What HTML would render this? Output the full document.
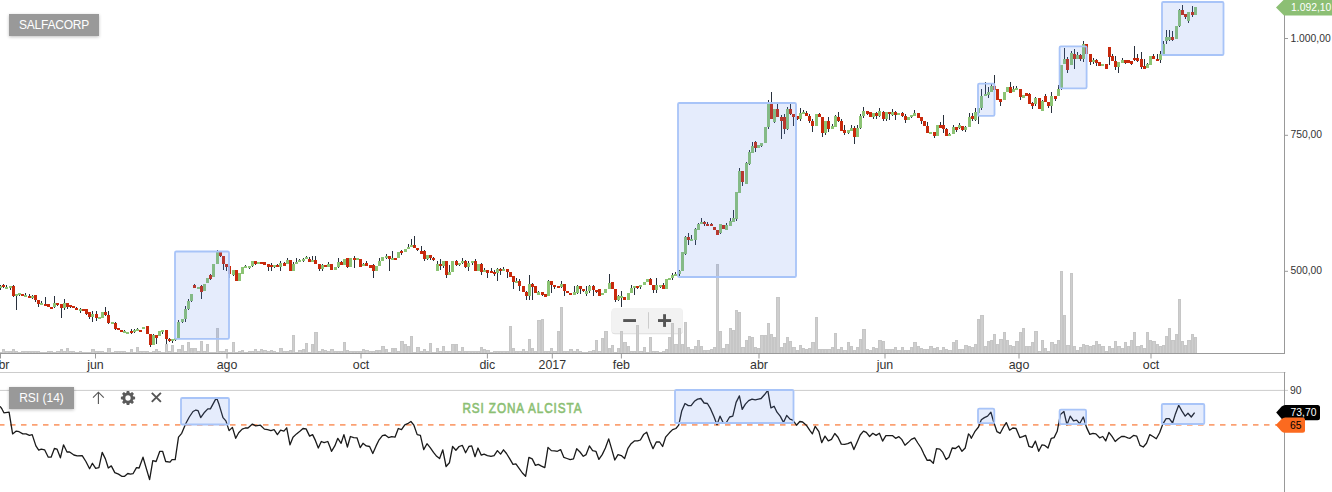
<!DOCTYPE html>
<html><head><meta charset="utf-8"><title>SALFACORP</title>
<style>
html,body{margin:0;padding:0;background:#fff;}
body{width:1332px;height:492px;overflow:hidden;position:relative;font-family:"Liberation Sans",sans-serif;}
svg{position:absolute;left:0;top:0;}
text{font-family:"Liberation Sans",sans-serif;}
.lbl{position:absolute;background:#999;color:#fff;font-size:12px;line-height:22px;height:22px;padding:0;text-align:center;box-shadow:0 1px 3px rgba(0,0,0,0.25);white-space:nowrap;}
</style></head><body>
<svg width="1332" height="492" viewBox="0 0 1332 492">
<rect width="1332" height="492" fill="#fff"/>
<!-- zoom widget -->
<g>
<rect x="611.5" y="309" width="71.4" height="25.2" rx="3.5" fill="#000" opacity="0.13"/>
<rect x="611.5" y="308" width="71.4" height="25.2" rx="3.5" fill="#f2f2f2"/>
<rect x="623.2" y="319.1" width="12.8" height="2.9" fill="#555"/>
<rect x="658" y="319.1" width="13.1" height="2.9" fill="#555"/>
<rect x="663.1" y="314.2" width="2.9" height="12.7" fill="#555"/>
<rect x="648" y="312.2" width="1" height="16.4" fill="#ccc"/>
</g>
<!-- volume -->
<g shape-rendering="crispEdges"><path d="M-1 353H2V352H-1zM2 353H5V349H2zM5 353H9V351H5zM9 353H12V351H9zM12 353H15V349H12zM15 353H18V351H15zM18 353H21V352H18zM21 353H24V351H21zM24 353H28V351H24zM28 353H31V351H28zM31 353H34V351H31zM34 353H37V351H34zM37 353H40V351H37zM40 353H44V352H40zM44 353H47V352H44zM47 353H50V351H47zM50 353H53V351H50zM53 353H56V352H53zM56 353H60V351H56zM60 353H63V349H60zM63 353H66V351H63zM66 353H69V348H66zM69 353H72V351H69zM72 353H75V351H72zM75 353H79V352H75zM79 353H82V351H79zM82 353H85V352H82zM85 353H88V352H85zM88 353H91V352H88zM91 353H95V349H91zM95 353H98V351H95zM98 353H101V351H98zM101 353H104V351H101zM104 353H107V352H104zM107 353H111V348H107zM111 353H114V352H111zM114 353H117V351H114zM117 353H120V351H117zM120 353H123V351H120zM123 353H126V351H123zM126 353H130V352H126zM130 353H133V349H130zM133 353H136V352H133zM136 353H139V347H136zM139 353H142V351H139zM142 353H146V351H142zM146 353H149V351H146zM149 353H152V352H149zM152 353H155V351H152zM155 353H158V349H155zM158 353H161V351H158zM161 353H165V352H161zM165 353H168V344H165zM168 353H171V351H168zM171 353H174V345H171zM174 353H177V352H174zM177 353H181V349H177zM181 353H184V345H181zM184 353H187V351H184zM187 353H190V342H187zM190 353H193V348H190zM193 353H197V348H193zM197 353H200V351H197zM200 353H203V341H200zM203 353H206V351H203zM206 353H209V344H206zM209 353H212V352H209zM212 353H216V352H212zM216 353H219V328H216zM219 353H222V351H219zM222 353H225V351H222zM225 353H228V349H225zM228 353H232V352H228zM232 353H235V342H232zM235 353H238V352H235zM238 353H241V351H238zM241 353H244V350H241zM244 353H248V352H244zM248 353H251V351H248zM251 353H254V351H251zM254 353H257V349H254zM257 353H260V351H257zM260 353H263V349H260zM263 353H267V350H263zM267 353H270V351H267zM270 353H273V350H270zM273 353H276V351H273zM276 353H279V352H276zM279 353H283V348H279zM283 353H286V351H283zM286 353H289V351H286zM289 353H292V350H289zM292 353H295V335H292zM295 353H298V352H295zM298 353H302V350H298zM302 353H305V349H302zM305 353H308V343H305zM308 353H311V352H308zM311 353H314V344H311zM314 353H318V332H314zM318 353H321V351H318zM321 353H324V349H321zM324 353H327V350H324zM327 353H330V351H327zM330 353H334V349H330zM334 353H337V351H334zM337 353H340V351H337zM340 353H343V351H340zM343 353H346V342H343zM346 353H349V350H346zM349 353H353V351H349zM353 353H356V351H353zM356 353H359V351H356zM359 353H362V351H359zM362 353H365V349H362zM365 353H369V350H365zM369 353H372V351H369zM372 353H375V351H372zM375 353H378V350H375zM378 353H381V350H378zM381 353H385V346H381zM385 353H388V349H385zM388 353H391V352H388zM391 353H394V348H391zM394 353H397V348H394zM397 353H400V351H397zM400 353H404V341H400zM404 353H407V344H404zM407 353H410V346H407zM410 353H413V336H410zM413 353H416V352H413zM416 353H420V347H416zM420 353H423V351H420zM423 353H426V349H423zM426 353H429V351H426zM429 353H432V343H429zM432 353H436V352H432zM436 353H439V348H436zM439 353H442V351H439zM442 353H445V346H442zM445 353H448V351H445zM448 353H451V351H448zM451 353H455V344H451zM455 353H458V344H455zM458 353H461V351H458zM461 353H464V347H461zM464 353H467V351H464zM467 353H471V351H467zM471 353H474V351H471zM474 353H477V351H474zM477 353H480V351H477zM480 353H483V347H480zM483 353H486V349H483zM486 353H490V350H486zM490 353H493V352H490zM493 353H496V351H493zM496 353H499V351H496zM499 353H502V351H499zM502 353H506V351H502zM506 353H509V351H506zM509 353H512V326H509zM512 353H515V348H512zM515 353H518V351H515zM518 353H522V351H518zM522 353H525V349H522zM525 353H528V351H525zM528 353H531V339H528zM531 353H534V348H531zM534 353H537V351H534zM537 353H541V320H537zM541 353H544V319H541zM544 353H547V351H544zM547 353H550V351H547zM550 353H553V348H550zM553 353H557V351H553zM557 353H560V331H557zM560 353H563V307H560zM563 353H566V351H563zM566 353H569V351H566zM569 353H573V349H569zM573 353H576V351H573zM576 353H579V349H576zM579 353H582V351H579zM582 353H585V352H582zM585 353H588V352H585zM588 353H592V351H588zM592 353H595V350H592zM595 353H598V340H595zM598 353H601V351H598zM601 353H604V338H601zM604 353H608V331H604zM608 353H611V348H608zM611 353H614V345H611zM614 353H617V352H614zM617 353H620V348H617zM620 353H623V331H620zM623 353H627V342H623zM627 353H630V346H627zM630 353H633V351H630zM633 353H636V351H633zM636 353H639V325H636zM639 353H643V351H639zM643 353H646V347H643zM646 353H649V352H646zM649 353H652V337H649zM652 353H655V351H652zM655 353H659V351H655zM659 353H662V352H659zM662 353H665V351H662zM665 353H668V349H665zM668 353H671V337H668zM671 353H674V323H671zM674 353H678V344H674zM678 353H681V328H678zM681 353H684V344H681zM684 353H687V322H684zM687 353H690V347H687zM690 353H694V349H690zM694 353H697V346H694zM697 353H700V340H697zM700 353H703V346H700zM703 353H706V350H703zM706 353H710V350H706zM710 353H713V349H710zM713 353H716V347H713zM716 353H719V264H716zM719 353H722V331H719zM722 353H725V348H722zM725 353H729V344H725zM729 353H732V328H729zM732 353H735V330H732zM735 353H738V310H735zM738 353H741V312H738zM741 353H745V347H741zM745 353H748V340H745zM748 353H751V336H748zM751 353H754V337H751zM754 353H757V347H754zM757 353H760V348H757zM760 353H764V335H760zM764 353H767V335H764zM767 353H770V323H767zM770 353H773V334H770zM773 353H776V337H773zM776 353H780V297H776zM780 353H783V347H780zM783 353H786V343H783zM786 353H789V337H786zM789 353H792V341H789zM792 353H796V347H792zM796 353H799V350H796zM799 353H802V345H799zM802 353H805V348H802zM805 353H808V349H805zM808 353H811V348H808zM811 353H815V342H811zM815 353H818V317H815zM818 353H821V349H818zM821 353H824V349H821zM824 353H827V349H824zM827 353H831V349H827zM831 353H834V347H831zM834 353H837V333H834zM837 353H840V349H837zM840 353H843V347H840zM843 353H847V350H843zM847 353H850V342H847zM850 353H853V346H850zM853 353H856V350H853zM856 353H859V347H856zM859 353H862V339H859zM862 353H866V329H862zM866 353H869V349H866zM869 353H872V350H869zM872 353H875V347H872zM875 353H878V348H875zM878 353H882V340H878zM882 353H885V341H882zM885 353H888V349H885zM888 353H891V349H888zM891 353H894V349H891zM894 353H897V347H894zM897 353H901V350H897zM901 353H904V347H901zM904 353H907V350H904zM907 353H910V350H907zM910 353H913V347H910zM913 353H917V342H913zM917 353H920V346H917zM920 353H923V348H920zM923 353H926V349H923zM926 353H929V349H926zM929 353H933V346H929zM933 353H936V348H933zM936 353H939V347H936zM939 353H942V350H939zM942 353H945V347H942zM945 353H948V349H945zM948 353H952V350H948zM952 353H955V342H952zM955 353H958V340H955zM958 353H961V349H958zM961 353H964V349H961zM964 353H968V345H964zM968 353H971V346H968zM971 353H974V347H971zM974 353H977V344H974zM977 353H980V319H977zM980 353H984V315H980zM984 353H987V346H984zM987 353H990V341H987zM990 353H993V340H990zM993 353H996V334H993zM996 353H999V344H996zM999 353H1003V339H999zM1003 353H1006V332H1003zM1006 353H1009V340H1006zM1009 353H1012V345H1009zM1012 353H1015V346H1012zM1015 353H1019V341H1015zM1019 353H1022V332H1019zM1022 353H1025V328H1022zM1025 353H1028V346H1025zM1028 353H1031V346H1028zM1031 353H1034V342H1031zM1034 353H1038V331H1034zM1038 353H1041V351H1038zM1041 353H1044V340H1041zM1044 353H1047V348H1044zM1047 353H1050V351H1047zM1050 353H1054V342H1050zM1054 353H1057V344H1054zM1057 353H1060V340H1057zM1060 353H1063V271H1060zM1063 353H1066V315H1063zM1066 353H1070V345H1066zM1070 353H1073V273H1070zM1073 353H1076V346H1073zM1076 353H1079V350H1076zM1079 353H1082V347H1079zM1082 353H1085V344H1082zM1085 353H1089V345H1085zM1089 353H1092V346H1089zM1092 353H1095V345H1092zM1095 353H1098V341H1095zM1098 353H1101V344H1098zM1101 353H1105V346H1101zM1105 353H1108V351H1105zM1108 353H1111V346H1108zM1111 353H1114V348H1111zM1114 353H1117V341H1114zM1117 353H1121V346H1117zM1121 353H1124V348H1121zM1124 353H1127V342H1124zM1127 353H1130V346H1127zM1130 353H1133V340H1130zM1133 353H1136V332H1133zM1136 353H1140V346H1136zM1140 353H1143V345H1140zM1143 353H1146V348H1143zM1146 353H1149V332H1146zM1149 353H1152V340H1149zM1152 353H1156V341H1152zM1156 353H1159V344H1156zM1159 353H1162V346H1159zM1162 353H1165V345H1162zM1165 353H1168V336H1165zM1168 353H1171V328H1168zM1171 353H1175V340H1171zM1175 353H1178V334H1175zM1178 353H1181V299H1178zM1181 353H1184V341H1181zM1184 353H1187V345H1184zM1187 353H1191V340H1187zM1191 353H1194V334H1191zM1194 353H1197V337H1194z" fill="#cecece"/><path d="M-1 352h1V353h-1zM1 352h1V353h-1zM-1 352H2v1H-1zM2 349h1V353h-1zM4 349h1V353h-1zM2 349H5v1H2zM5 351h1V353h-1zM8 351h1V353h-1zM5 351H9v1H5zM9 351h1V353h-1zM11 351h1V353h-1zM9 351H12v1H9zM12 349h1V353h-1zM14 349h1V353h-1zM12 349H15v1H12zM15 351h1V353h-1zM17 351h1V353h-1zM15 351H18v1H15zM18 352h1V353h-1zM20 352h1V353h-1zM18 352H21v1H18zM21 351h1V353h-1zM23 351h1V353h-1zM21 351H24v1H21zM24 351h1V353h-1zM27 351h1V353h-1zM24 351H28v1H24zM28 351h1V353h-1zM30 351h1V353h-1zM28 351H31v1H28zM31 351h1V353h-1zM33 351h1V353h-1zM31 351H34v1H31zM34 351h1V353h-1zM36 351h1V353h-1zM34 351H37v1H34zM37 351h1V353h-1zM39 351h1V353h-1zM37 351H40v1H37zM40 352h1V353h-1zM43 352h1V353h-1zM40 352H44v1H40zM44 352h1V353h-1zM46 352h1V353h-1zM44 352H47v1H44zM47 351h1V353h-1zM49 351h1V353h-1zM47 351H50v1H47zM50 351h1V353h-1zM52 351h1V353h-1zM50 351H53v1H50zM53 352h1V353h-1zM55 352h1V353h-1zM53 352H56v1H53zM56 351h1V353h-1zM59 351h1V353h-1zM56 351H60v1H56zM60 349h1V353h-1zM62 349h1V353h-1zM60 349H63v1H60zM63 351h1V353h-1zM65 351h1V353h-1zM63 351H66v1H63zM66 348h1V353h-1zM68 348h1V353h-1zM66 348H69v1H66zM69 351h1V353h-1zM71 351h1V353h-1zM69 351H72v1H69zM72 351h1V353h-1zM74 351h1V353h-1zM72 351H75v1H72zM75 352h1V353h-1zM78 352h1V353h-1zM75 352H79v1H75zM79 351h1V353h-1zM81 351h1V353h-1zM79 351H82v1H79zM82 352h1V353h-1zM84 352h1V353h-1zM82 352H85v1H82zM85 352h1V353h-1zM87 352h1V353h-1zM85 352H88v1H85zM88 352h1V353h-1zM90 352h1V353h-1zM88 352H91v1H88zM91 349h1V353h-1zM94 349h1V353h-1zM91 349H95v1H91zM95 351h1V353h-1zM97 351h1V353h-1zM95 351H98v1H95zM98 351h1V353h-1zM100 351h1V353h-1zM98 351H101v1H98zM101 351h1V353h-1zM103 351h1V353h-1zM101 351H104v1H101zM104 352h1V353h-1zM106 352h1V353h-1zM104 352H107v1H104zM107 348h1V353h-1zM110 348h1V353h-1zM107 348H111v1H107zM111 352h1V353h-1zM113 352h1V353h-1zM111 352H114v1H111zM114 351h1V353h-1zM116 351h1V353h-1zM114 351H117v1H114zM117 351h1V353h-1zM119 351h1V353h-1zM117 351H120v1H117zM120 351h1V353h-1zM122 351h1V353h-1zM120 351H123v1H120zM123 351h1V353h-1zM125 351h1V353h-1zM123 351H126v1H123zM126 352h1V353h-1zM129 352h1V353h-1zM126 352H130v1H126zM130 349h1V353h-1zM132 349h1V353h-1zM130 349H133v1H130zM133 352h1V353h-1zM135 352h1V353h-1zM133 352H136v1H133zM136 347h1V353h-1zM138 347h1V353h-1zM136 347H139v1H136zM139 351h1V353h-1zM141 351h1V353h-1zM139 351H142v1H139zM142 351h1V353h-1zM145 351h1V353h-1zM142 351H146v1H142zM146 351h1V353h-1zM148 351h1V353h-1zM146 351H149v1H146zM149 352h1V353h-1zM151 352h1V353h-1zM149 352H152v1H149zM152 351h1V353h-1zM154 351h1V353h-1zM152 351H155v1H152zM155 349h1V353h-1zM157 349h1V353h-1zM155 349H158v1H155zM158 351h1V353h-1zM160 351h1V353h-1zM158 351H161v1H158zM161 352h1V353h-1zM164 352h1V353h-1zM161 352H165v1H161zM165 344h1V353h-1zM167 344h1V353h-1zM165 344H168v1H165zM168 351h1V353h-1zM170 351h1V353h-1zM168 351H171v1H168zM171 345h1V353h-1zM173 345h1V353h-1zM171 345H174v1H171zM174 352h1V353h-1zM176 352h1V353h-1zM174 352H177v1H174zM177 349h1V353h-1zM180 349h1V353h-1zM177 349H181v1H177zM181 345h1V353h-1zM183 345h1V353h-1zM181 345H184v1H181zM184 351h1V353h-1zM186 351h1V353h-1zM184 351H187v1H184zM187 342h1V353h-1zM189 342h1V353h-1zM187 342H190v1H187zM190 348h1V353h-1zM192 348h1V353h-1zM190 348H193v1H190zM193 348h1V353h-1zM196 348h1V353h-1zM193 348H197v1H193zM197 351h1V353h-1zM199 351h1V353h-1zM197 351H200v1H197zM200 341h1V353h-1zM202 341h1V353h-1zM200 341H203v1H200zM203 351h1V353h-1zM205 351h1V353h-1zM203 351H206v1H203zM206 344h1V353h-1zM208 344h1V353h-1zM206 344H209v1H206zM209 352h1V353h-1zM211 352h1V353h-1zM209 352H212v1H209zM212 352h1V353h-1zM215 352h1V353h-1zM212 352H216v1H212zM216 328h1V353h-1zM218 328h1V353h-1zM216 328H219v1H216zM219 351h1V353h-1zM221 351h1V353h-1zM219 351H222v1H219zM222 351h1V353h-1zM224 351h1V353h-1zM222 351H225v1H222zM225 349h1V353h-1zM227 349h1V353h-1zM225 349H228v1H225zM228 352h1V353h-1zM231 352h1V353h-1zM228 352H232v1H228zM232 342h1V353h-1zM234 342h1V353h-1zM232 342H235v1H232zM235 352h1V353h-1zM237 352h1V353h-1zM235 352H238v1H235zM238 351h1V353h-1zM240 351h1V353h-1zM238 351H241v1H238zM241 350h1V353h-1zM243 350h1V353h-1zM241 350H244v1H241zM244 352h1V353h-1zM247 352h1V353h-1zM244 352H248v1H244zM248 351h1V353h-1zM250 351h1V353h-1zM248 351H251v1H248zM251 351h1V353h-1zM253 351h1V353h-1zM251 351H254v1H251zM254 349h1V353h-1zM256 349h1V353h-1zM254 349H257v1H254zM257 351h1V353h-1zM259 351h1V353h-1zM257 351H260v1H257zM260 349h1V353h-1zM262 349h1V353h-1zM260 349H263v1H260zM263 350h1V353h-1zM266 350h1V353h-1zM263 350H267v1H263zM267 351h1V353h-1zM269 351h1V353h-1zM267 351H270v1H267zM270 350h1V353h-1zM272 350h1V353h-1zM270 350H273v1H270zM273 351h1V353h-1zM275 351h1V353h-1zM273 351H276v1H273zM276 352h1V353h-1zM278 352h1V353h-1zM276 352H279v1H276zM279 348h1V353h-1zM282 348h1V353h-1zM279 348H283v1H279zM283 351h1V353h-1zM285 351h1V353h-1zM283 351H286v1H283zM286 351h1V353h-1zM288 351h1V353h-1zM286 351H289v1H286zM289 350h1V353h-1zM291 350h1V353h-1zM289 350H292v1H289zM292 335h1V353h-1zM294 335h1V353h-1zM292 335H295v1H292zM295 352h1V353h-1zM297 352h1V353h-1zM295 352H298v1H295zM298 350h1V353h-1zM301 350h1V353h-1zM298 350H302v1H298zM302 349h1V353h-1zM304 349h1V353h-1zM302 349H305v1H302zM305 343h1V353h-1zM307 343h1V353h-1zM305 343H308v1H305zM308 352h1V353h-1zM310 352h1V353h-1zM308 352H311v1H308zM311 344h1V353h-1zM313 344h1V353h-1zM311 344H314v1H311zM314 332h1V353h-1zM317 332h1V353h-1zM314 332H318v1H314zM318 351h1V353h-1zM320 351h1V353h-1zM318 351H321v1H318zM321 349h1V353h-1zM323 349h1V353h-1zM321 349H324v1H321zM324 350h1V353h-1zM326 350h1V353h-1zM324 350H327v1H324zM327 351h1V353h-1zM329 351h1V353h-1zM327 351H330v1H327zM330 349h1V353h-1zM333 349h1V353h-1zM330 349H334v1H330zM334 351h1V353h-1zM336 351h1V353h-1zM334 351H337v1H334zM337 351h1V353h-1zM339 351h1V353h-1zM337 351H340v1H337zM340 351h1V353h-1zM342 351h1V353h-1zM340 351H343v1H340zM343 342h1V353h-1zM345 342h1V353h-1zM343 342H346v1H343zM346 350h1V353h-1zM348 350h1V353h-1zM346 350H349v1H346zM349 351h1V353h-1zM352 351h1V353h-1zM349 351H353v1H349zM353 351h1V353h-1zM355 351h1V353h-1zM353 351H356v1H353zM356 351h1V353h-1zM358 351h1V353h-1zM356 351H359v1H356zM359 351h1V353h-1zM361 351h1V353h-1zM359 351H362v1H359zM362 349h1V353h-1zM364 349h1V353h-1zM362 349H365v1H362zM365 350h1V353h-1zM368 350h1V353h-1zM365 350H369v1H365zM369 351h1V353h-1zM371 351h1V353h-1zM369 351H372v1H369zM372 351h1V353h-1zM374 351h1V353h-1zM372 351H375v1H372zM375 350h1V353h-1zM377 350h1V353h-1zM375 350H378v1H375zM378 350h1V353h-1zM380 350h1V353h-1zM378 350H381v1H378zM381 346h1V353h-1zM384 346h1V353h-1zM381 346H385v1H381zM385 349h1V353h-1zM387 349h1V353h-1zM385 349H388v1H385zM388 352h1V353h-1zM390 352h1V353h-1zM388 352H391v1H388zM391 348h1V353h-1zM393 348h1V353h-1zM391 348H394v1H391zM394 348h1V353h-1zM396 348h1V353h-1zM394 348H397v1H394zM397 351h1V353h-1zM399 351h1V353h-1zM397 351H400v1H397zM400 341h1V353h-1zM403 341h1V353h-1zM400 341H404v1H400zM404 344h1V353h-1zM406 344h1V353h-1zM404 344H407v1H404zM407 346h1V353h-1zM409 346h1V353h-1zM407 346H410v1H407zM410 336h1V353h-1zM412 336h1V353h-1zM410 336H413v1H410zM413 352h1V353h-1zM415 352h1V353h-1zM413 352H416v1H413zM416 347h1V353h-1zM419 347h1V353h-1zM416 347H420v1H416zM420 351h1V353h-1zM422 351h1V353h-1zM420 351H423v1H420zM423 349h1V353h-1zM425 349h1V353h-1zM423 349H426v1H423zM426 351h1V353h-1zM428 351h1V353h-1zM426 351H429v1H426zM429 343h1V353h-1zM431 343h1V353h-1zM429 343H432v1H429zM432 352h1V353h-1zM435 352h1V353h-1zM432 352H436v1H432zM436 348h1V353h-1zM438 348h1V353h-1zM436 348H439v1H436zM439 351h1V353h-1zM441 351h1V353h-1zM439 351H442v1H439zM442 346h1V353h-1zM444 346h1V353h-1zM442 346H445v1H442zM445 351h1V353h-1zM447 351h1V353h-1zM445 351H448v1H445zM448 351h1V353h-1zM450 351h1V353h-1zM448 351H451v1H448zM451 344h1V353h-1zM454 344h1V353h-1zM451 344H455v1H451zM455 344h1V353h-1zM457 344h1V353h-1zM455 344H458v1H455zM458 351h1V353h-1zM460 351h1V353h-1zM458 351H461v1H458zM461 347h1V353h-1zM463 347h1V353h-1zM461 347H464v1H461zM464 351h1V353h-1zM466 351h1V353h-1zM464 351H467v1H464zM467 351h1V353h-1zM470 351h1V353h-1zM467 351H471v1H467zM471 351h1V353h-1zM473 351h1V353h-1zM471 351H474v1H471zM474 351h1V353h-1zM476 351h1V353h-1zM474 351H477v1H474zM477 351h1V353h-1zM479 351h1V353h-1zM477 351H480v1H477zM480 347h1V353h-1zM482 347h1V353h-1zM480 347H483v1H480zM483 349h1V353h-1zM485 349h1V353h-1zM483 349H486v1H483zM486 350h1V353h-1zM489 350h1V353h-1zM486 350H490v1H486zM490 352h1V353h-1zM492 352h1V353h-1zM490 352H493v1H490zM493 351h1V353h-1zM495 351h1V353h-1zM493 351H496v1H493zM496 351h1V353h-1zM498 351h1V353h-1zM496 351H499v1H496zM499 351h1V353h-1zM501 351h1V353h-1zM499 351H502v1H499zM502 351h1V353h-1zM505 351h1V353h-1zM502 351H506v1H502zM506 351h1V353h-1zM508 351h1V353h-1zM506 351H509v1H506zM509 326h1V353h-1zM511 326h1V353h-1zM509 326H512v1H509zM512 348h1V353h-1zM514 348h1V353h-1zM512 348H515v1H512zM515 351h1V353h-1zM517 351h1V353h-1zM515 351H518v1H515zM518 351h1V353h-1zM521 351h1V353h-1zM518 351H522v1H518zM522 349h1V353h-1zM524 349h1V353h-1zM522 349H525v1H522zM525 351h1V353h-1zM527 351h1V353h-1zM525 351H528v1H525zM528 339h1V353h-1zM530 339h1V353h-1zM528 339H531v1H528zM531 348h1V353h-1zM533 348h1V353h-1zM531 348H534v1H531zM534 351h1V353h-1zM536 351h1V353h-1zM534 351H537v1H534zM537 320h1V353h-1zM540 320h1V353h-1zM537 320H541v1H537zM541 319h1V353h-1zM543 319h1V353h-1zM541 319H544v1H541zM544 351h1V353h-1zM546 351h1V353h-1zM544 351H547v1H544zM547 351h1V353h-1zM549 351h1V353h-1zM547 351H550v1H547zM550 348h1V353h-1zM552 348h1V353h-1zM550 348H553v1H550zM553 351h1V353h-1zM556 351h1V353h-1zM553 351H557v1H553zM557 331h1V353h-1zM559 331h1V353h-1zM557 331H560v1H557zM560 307h1V353h-1zM562 307h1V353h-1zM560 307H563v1H560zM563 351h1V353h-1zM565 351h1V353h-1zM563 351H566v1H563zM566 351h1V353h-1zM568 351h1V353h-1zM566 351H569v1H566zM569 349h1V353h-1zM572 349h1V353h-1zM569 349H573v1H569zM573 351h1V353h-1zM575 351h1V353h-1zM573 351H576v1H573zM576 349h1V353h-1zM578 349h1V353h-1zM576 349H579v1H576zM579 351h1V353h-1zM581 351h1V353h-1zM579 351H582v1H579zM582 352h1V353h-1zM584 352h1V353h-1zM582 352H585v1H582zM585 352h1V353h-1zM587 352h1V353h-1zM585 352H588v1H585zM588 351h1V353h-1zM591 351h1V353h-1zM588 351H592v1H588zM592 350h1V353h-1zM594 350h1V353h-1zM592 350H595v1H592zM595 340h1V353h-1zM597 340h1V353h-1zM595 340H598v1H595zM598 351h1V353h-1zM600 351h1V353h-1zM598 351H601v1H598zM601 338h1V353h-1zM603 338h1V353h-1zM601 338H604v1H601zM604 331h1V353h-1zM607 331h1V353h-1zM604 331H608v1H604zM608 348h1V353h-1zM610 348h1V353h-1zM608 348H611v1H608zM611 345h1V353h-1zM613 345h1V353h-1zM611 345H614v1H611zM614 352h1V353h-1zM616 352h1V353h-1zM614 352H617v1H614zM617 348h1V353h-1zM619 348h1V353h-1zM617 348H620v1H617zM620 331h1V353h-1zM622 331h1V353h-1zM620 331H623v1H620zM623 342h1V353h-1zM626 342h1V353h-1zM623 342H627v1H623zM627 346h1V353h-1zM629 346h1V353h-1zM627 346H630v1H627zM630 351h1V353h-1zM632 351h1V353h-1zM630 351H633v1H630zM633 351h1V353h-1zM635 351h1V353h-1zM633 351H636v1H633zM636 325h1V353h-1zM638 325h1V353h-1zM636 325H639v1H636zM639 351h1V353h-1zM642 351h1V353h-1zM639 351H643v1H639zM643 347h1V353h-1zM645 347h1V353h-1zM643 347H646v1H643zM646 352h1V353h-1zM648 352h1V353h-1zM646 352H649v1H646zM649 337h1V353h-1zM651 337h1V353h-1zM649 337H652v1H649zM652 351h1V353h-1zM654 351h1V353h-1zM652 351H655v1H652zM655 351h1V353h-1zM658 351h1V353h-1zM655 351H659v1H655zM659 352h1V353h-1zM661 352h1V353h-1zM659 352H662v1H659zM662 351h1V353h-1zM664 351h1V353h-1zM662 351H665v1H662zM665 349h1V353h-1zM667 349h1V353h-1zM665 349H668v1H665zM668 337h1V353h-1zM670 337h1V353h-1zM668 337H671v1H668zM671 323h1V353h-1zM673 323h1V353h-1zM671 323H674v1H671zM674 344h1V353h-1zM677 344h1V353h-1zM674 344H678v1H674zM678 328h1V353h-1zM680 328h1V353h-1zM678 328H681v1H678zM681 344h1V353h-1zM683 344h1V353h-1zM681 344H684v1H681zM684 322h1V353h-1zM686 322h1V353h-1zM684 322H687v1H684zM687 347h1V353h-1zM689 347h1V353h-1zM687 347H690v1H687zM690 349h1V353h-1zM693 349h1V353h-1zM690 349H694v1H690zM694 346h1V353h-1zM696 346h1V353h-1zM694 346H697v1H694zM697 340h1V353h-1zM699 340h1V353h-1zM697 340H700v1H697zM700 346h1V353h-1zM702 346h1V353h-1zM700 346H703v1H700zM703 350h1V353h-1zM705 350h1V353h-1zM703 350H706v1H703zM706 350h1V353h-1zM709 350h1V353h-1zM706 350H710v1H706zM710 349h1V353h-1zM712 349h1V353h-1zM710 349H713v1H710zM713 347h1V353h-1zM715 347h1V353h-1zM713 347H716v1H713zM716 264h1V353h-1zM718 264h1V353h-1zM716 264H719v1H716zM719 331h1V353h-1zM721 331h1V353h-1zM719 331H722v1H719zM722 348h1V353h-1zM724 348h1V353h-1zM722 348H725v1H722zM725 344h1V353h-1zM728 344h1V353h-1zM725 344H729v1H725zM729 328h1V353h-1zM731 328h1V353h-1zM729 328H732v1H729zM732 330h1V353h-1zM734 330h1V353h-1zM732 330H735v1H732zM735 310h1V353h-1zM737 310h1V353h-1zM735 310H738v1H735zM738 312h1V353h-1zM740 312h1V353h-1zM738 312H741v1H738zM741 347h1V353h-1zM744 347h1V353h-1zM741 347H745v1H741zM745 340h1V353h-1zM747 340h1V353h-1zM745 340H748v1H745zM748 336h1V353h-1zM750 336h1V353h-1zM748 336H751v1H748zM751 337h1V353h-1zM753 337h1V353h-1zM751 337H754v1H751zM754 347h1V353h-1zM756 347h1V353h-1zM754 347H757v1H754zM757 348h1V353h-1zM759 348h1V353h-1zM757 348H760v1H757zM760 335h1V353h-1zM763 335h1V353h-1zM760 335H764v1H760zM764 335h1V353h-1zM766 335h1V353h-1zM764 335H767v1H764zM767 323h1V353h-1zM769 323h1V353h-1zM767 323H770v1H767zM770 334h1V353h-1zM772 334h1V353h-1zM770 334H773v1H770zM773 337h1V353h-1zM775 337h1V353h-1zM773 337H776v1H773zM776 297h1V353h-1zM779 297h1V353h-1zM776 297H780v1H776zM780 347h1V353h-1zM782 347h1V353h-1zM780 347H783v1H780zM783 343h1V353h-1zM785 343h1V353h-1zM783 343H786v1H783zM786 337h1V353h-1zM788 337h1V353h-1zM786 337H789v1H786zM789 341h1V353h-1zM791 341h1V353h-1zM789 341H792v1H789zM792 347h1V353h-1zM795 347h1V353h-1zM792 347H796v1H792zM796 350h1V353h-1zM798 350h1V353h-1zM796 350H799v1H796zM799 345h1V353h-1zM801 345h1V353h-1zM799 345H802v1H799zM802 348h1V353h-1zM804 348h1V353h-1zM802 348H805v1H802zM805 349h1V353h-1zM807 349h1V353h-1zM805 349H808v1H805zM808 348h1V353h-1zM810 348h1V353h-1zM808 348H811v1H808zM811 342h1V353h-1zM814 342h1V353h-1zM811 342H815v1H811zM815 317h1V353h-1zM817 317h1V353h-1zM815 317H818v1H815zM818 349h1V353h-1zM820 349h1V353h-1zM818 349H821v1H818zM821 349h1V353h-1zM823 349h1V353h-1zM821 349H824v1H821zM824 349h1V353h-1zM826 349h1V353h-1zM824 349H827v1H824zM827 349h1V353h-1zM830 349h1V353h-1zM827 349H831v1H827zM831 347h1V353h-1zM833 347h1V353h-1zM831 347H834v1H831zM834 333h1V353h-1zM836 333h1V353h-1zM834 333H837v1H834zM837 349h1V353h-1zM839 349h1V353h-1zM837 349H840v1H837zM840 347h1V353h-1zM842 347h1V353h-1zM840 347H843v1H840zM843 350h1V353h-1zM846 350h1V353h-1zM843 350H847v1H843zM847 342h1V353h-1zM849 342h1V353h-1zM847 342H850v1H847zM850 346h1V353h-1zM852 346h1V353h-1zM850 346H853v1H850zM853 350h1V353h-1zM855 350h1V353h-1zM853 350H856v1H853zM856 347h1V353h-1zM858 347h1V353h-1zM856 347H859v1H856zM859 339h1V353h-1zM861 339h1V353h-1zM859 339H862v1H859zM862 329h1V353h-1zM865 329h1V353h-1zM862 329H866v1H862zM866 349h1V353h-1zM868 349h1V353h-1zM866 349H869v1H866zM869 350h1V353h-1zM871 350h1V353h-1zM869 350H872v1H869zM872 347h1V353h-1zM874 347h1V353h-1zM872 347H875v1H872zM875 348h1V353h-1zM877 348h1V353h-1zM875 348H878v1H875zM878 340h1V353h-1zM881 340h1V353h-1zM878 340H882v1H878zM882 341h1V353h-1zM884 341h1V353h-1zM882 341H885v1H882zM885 349h1V353h-1zM887 349h1V353h-1zM885 349H888v1H885zM888 349h1V353h-1zM890 349h1V353h-1zM888 349H891v1H888zM891 349h1V353h-1zM893 349h1V353h-1zM891 349H894v1H891zM894 347h1V353h-1zM896 347h1V353h-1zM894 347H897v1H894zM897 350h1V353h-1zM900 350h1V353h-1zM897 350H901v1H897zM901 347h1V353h-1zM903 347h1V353h-1zM901 347H904v1H901zM904 350h1V353h-1zM906 350h1V353h-1zM904 350H907v1H904zM907 350h1V353h-1zM909 350h1V353h-1zM907 350H910v1H907zM910 347h1V353h-1zM912 347h1V353h-1zM910 347H913v1H910zM913 342h1V353h-1zM916 342h1V353h-1zM913 342H917v1H913zM917 346h1V353h-1zM919 346h1V353h-1zM917 346H920v1H917zM920 348h1V353h-1zM922 348h1V353h-1zM920 348H923v1H920zM923 349h1V353h-1zM925 349h1V353h-1zM923 349H926v1H923zM926 349h1V353h-1zM928 349h1V353h-1zM926 349H929v1H926zM929 346h1V353h-1zM932 346h1V353h-1zM929 346H933v1H929zM933 348h1V353h-1zM935 348h1V353h-1zM933 348H936v1H933zM936 347h1V353h-1zM938 347h1V353h-1zM936 347H939v1H936zM939 350h1V353h-1zM941 350h1V353h-1zM939 350H942v1H939zM942 347h1V353h-1zM944 347h1V353h-1zM942 347H945v1H942zM945 349h1V353h-1zM947 349h1V353h-1zM945 349H948v1H945zM948 350h1V353h-1zM951 350h1V353h-1zM948 350H952v1H948zM952 342h1V353h-1zM954 342h1V353h-1zM952 342H955v1H952zM955 340h1V353h-1zM957 340h1V353h-1zM955 340H958v1H955zM958 349h1V353h-1zM960 349h1V353h-1zM958 349H961v1H958zM961 349h1V353h-1zM963 349h1V353h-1zM961 349H964v1H961zM964 345h1V353h-1zM967 345h1V353h-1zM964 345H968v1H964zM968 346h1V353h-1zM970 346h1V353h-1zM968 346H971v1H968zM971 347h1V353h-1zM973 347h1V353h-1zM971 347H974v1H971zM974 344h1V353h-1zM976 344h1V353h-1zM974 344H977v1H974zM977 319h1V353h-1zM979 319h1V353h-1zM977 319H980v1H977zM980 315h1V353h-1zM983 315h1V353h-1zM980 315H984v1H980zM984 346h1V353h-1zM986 346h1V353h-1zM984 346H987v1H984zM987 341h1V353h-1zM989 341h1V353h-1zM987 341H990v1H987zM990 340h1V353h-1zM992 340h1V353h-1zM990 340H993v1H990zM993 334h1V353h-1zM995 334h1V353h-1zM993 334H996v1H993zM996 344h1V353h-1zM998 344h1V353h-1zM996 344H999v1H996zM999 339h1V353h-1zM1002 339h1V353h-1zM999 339H1003v1H999zM1003 332h1V353h-1zM1005 332h1V353h-1zM1003 332H1006v1H1003zM1006 340h1V353h-1zM1008 340h1V353h-1zM1006 340H1009v1H1006zM1009 345h1V353h-1zM1011 345h1V353h-1zM1009 345H1012v1H1009zM1012 346h1V353h-1zM1014 346h1V353h-1zM1012 346H1015v1H1012zM1015 341h1V353h-1zM1018 341h1V353h-1zM1015 341H1019v1H1015zM1019 332h1V353h-1zM1021 332h1V353h-1zM1019 332H1022v1H1019zM1022 328h1V353h-1zM1024 328h1V353h-1zM1022 328H1025v1H1022zM1025 346h1V353h-1zM1027 346h1V353h-1zM1025 346H1028v1H1025zM1028 346h1V353h-1zM1030 346h1V353h-1zM1028 346H1031v1H1028zM1031 342h1V353h-1zM1033 342h1V353h-1zM1031 342H1034v1H1031zM1034 331h1V353h-1zM1037 331h1V353h-1zM1034 331H1038v1H1034zM1038 351h1V353h-1zM1040 351h1V353h-1zM1038 351H1041v1H1038zM1041 340h1V353h-1zM1043 340h1V353h-1zM1041 340H1044v1H1041zM1044 348h1V353h-1zM1046 348h1V353h-1zM1044 348H1047v1H1044zM1047 351h1V353h-1zM1049 351h1V353h-1zM1047 351H1050v1H1047zM1050 342h1V353h-1zM1053 342h1V353h-1zM1050 342H1054v1H1050zM1054 344h1V353h-1zM1056 344h1V353h-1zM1054 344H1057v1H1054zM1057 340h1V353h-1zM1059 340h1V353h-1zM1057 340H1060v1H1057zM1060 271h1V353h-1zM1062 271h1V353h-1zM1060 271H1063v1H1060zM1063 315h1V353h-1zM1065 315h1V353h-1zM1063 315H1066v1H1063zM1066 345h1V353h-1zM1069 345h1V353h-1zM1066 345H1070v1H1066zM1070 273h1V353h-1zM1072 273h1V353h-1zM1070 273H1073v1H1070zM1073 346h1V353h-1zM1075 346h1V353h-1zM1073 346H1076v1H1073zM1076 350h1V353h-1zM1078 350h1V353h-1zM1076 350H1079v1H1076zM1079 347h1V353h-1zM1081 347h1V353h-1zM1079 347H1082v1H1079zM1082 344h1V353h-1zM1084 344h1V353h-1zM1082 344H1085v1H1082zM1085 345h1V353h-1zM1088 345h1V353h-1zM1085 345H1089v1H1085zM1089 346h1V353h-1zM1091 346h1V353h-1zM1089 346H1092v1H1089zM1092 345h1V353h-1zM1094 345h1V353h-1zM1092 345H1095v1H1092zM1095 341h1V353h-1zM1097 341h1V353h-1zM1095 341H1098v1H1095zM1098 344h1V353h-1zM1100 344h1V353h-1zM1098 344H1101v1H1098zM1101 346h1V353h-1zM1104 346h1V353h-1zM1101 346H1105v1H1101zM1105 351h1V353h-1zM1107 351h1V353h-1zM1105 351H1108v1H1105zM1108 346h1V353h-1zM1110 346h1V353h-1zM1108 346H1111v1H1108zM1111 348h1V353h-1zM1113 348h1V353h-1zM1111 348H1114v1H1111zM1114 341h1V353h-1zM1116 341h1V353h-1zM1114 341H1117v1H1114zM1117 346h1V353h-1zM1120 346h1V353h-1zM1117 346H1121v1H1117zM1121 348h1V353h-1zM1123 348h1V353h-1zM1121 348H1124v1H1121zM1124 342h1V353h-1zM1126 342h1V353h-1zM1124 342H1127v1H1124zM1127 346h1V353h-1zM1129 346h1V353h-1zM1127 346H1130v1H1127zM1130 340h1V353h-1zM1132 340h1V353h-1zM1130 340H1133v1H1130zM1133 332h1V353h-1zM1135 332h1V353h-1zM1133 332H1136v1H1133zM1136 346h1V353h-1zM1139 346h1V353h-1zM1136 346H1140v1H1136zM1140 345h1V353h-1zM1142 345h1V353h-1zM1140 345H1143v1H1140zM1143 348h1V353h-1zM1145 348h1V353h-1zM1143 348H1146v1H1143zM1146 332h1V353h-1zM1148 332h1V353h-1zM1146 332H1149v1H1146zM1149 340h1V353h-1zM1151 340h1V353h-1zM1149 340H1152v1H1149zM1152 341h1V353h-1zM1155 341h1V353h-1zM1152 341H1156v1H1152zM1156 344h1V353h-1zM1158 344h1V353h-1zM1156 344H1159v1H1156zM1159 346h1V353h-1zM1161 346h1V353h-1zM1159 346H1162v1H1159zM1162 345h1V353h-1zM1164 345h1V353h-1zM1162 345H1165v1H1162zM1165 336h1V353h-1zM1167 336h1V353h-1zM1165 336H1168v1H1165zM1168 328h1V353h-1zM1170 328h1V353h-1zM1168 328H1171v1H1168zM1171 340h1V353h-1zM1174 340h1V353h-1zM1171 340H1175v1H1171zM1175 334h1V353h-1zM1177 334h1V353h-1zM1175 334H1178v1H1175zM1178 299h1V353h-1zM1180 299h1V353h-1zM1178 299H1181v1H1178zM1181 341h1V353h-1zM1183 341h1V353h-1zM1181 341H1184v1H1181zM1184 345h1V353h-1zM1186 345h1V353h-1zM1184 345H1187v1H1184zM1187 340h1V353h-1zM1190 340h1V353h-1zM1187 340H1191v1H1187zM1191 334h1V353h-1zM1193 334h1V353h-1zM1191 334H1194v1H1191zM1194 337h1V353h-1zM1196 337h1V353h-1zM1194 337H1197v1H1194z" fill="#bcbcbc" fill-opacity="0.45"/></g>
<!-- axes main -->
<path d="M0 353.5H1285M1284.5 0V354" stroke="#999" stroke-width="1" fill="none" shape-rendering="crispEdges"/>
<path d="M0.5 353.5v5M95.5 353.5v5M227 353.5v5M361 353.5v5M487.4 353.5v5M552.3 353.5v5M621.4 353.5v5M759 353.5v5M885 353.5v5M1019 353.5v5M1151 353.5v5" stroke="#999" stroke-width="1" fill="none"/>
<path d="M1285 38.5h3M1285 135.3h3M1285 271.3h3" stroke="#999" stroke-width="1" fill="none"/>
<g font-size="12.4" fill="#333" text-anchor="middle">
<text x="0.5" y="369">abr</text><text x="95.5" y="369">jun</text><text x="227" y="369">ago</text><text x="361" y="369">oct</text><text x="487.4" y="369">dic</text><text x="552.3" y="369">2017</text><text x="621.4" y="369">feb</text><text x="759" y="369">abr</text><text x="885" y="369">jun</text><text x="1019" y="369">ago</text><text x="1151" y="369">oct</text>
</g>
<g font-size="10.35" fill="#333">
<text x="1290.4" y="41.8">1.000,00</text><text x="1290.4" y="138.3">750,00</text><text x="1290.4" y="274.3">500,00</text>
</g>
<!-- RSI panel frame -->
<path d="M0 372.5H1285.5" stroke="#ccc" stroke-width="1" fill="none"/>
<path d="M0 390.4H1288" stroke="#ccc" stroke-width="1" fill="none"/>
<path d="M1284.5 372V492" stroke="#999" stroke-width="1" fill="none" shape-rendering="crispEdges"/>
<text x="1290" y="393.8" font-size="10.35" fill="#333">90</text>
<!-- candles -->
<g shape-rendering="crispEdges"><path d="M0 285h1V286h-1zM0 288h1V290h-1zM3 284h1V285h-1zM3 287h1V288h-1zM6 285h1V287h-1zM10 288h1V290h-1zM13 285h1V286h-1zM13 296h1V297h-1zM16 296h1V310h-1zM19 295h1V296h-1zM25 293h1V295h-1zM29 294h1V296h-1zM32 295h1V296h-1zM32 298h1V299h-1zM35 300h1V302h-1zM38 304h1V307h-1zM41 301h1V303h-1zM45 297h1V304h-1zM54 296h1V303h-1zM54 307h1V308h-1zM57 305h1V306h-1zM61 308h1V318h-1zM64 299h1V303h-1zM64 308h1V310h-1zM67 307h1V309h-1zM70 307h1V308h-1zM76 307h1V308h-1zM80 308h1V309h-1zM80 311h1V313h-1zM86 314h1V315h-1zM89 317h1V319h-1zM92 311h1V314h-1zM92 317h1V322h-1zM96 311h1V314h-1zM96 318h1V321h-1zM105 307h1V312h-1zM105 315h1V316h-1zM108 311h1V315h-1zM108 323h1V324h-1zM115 322h1V323h-1zM115 329h1V330h-1zM124 330h1V331h-1zM131 329h1V331h-1zM131 333h1V334h-1zM134 329h1V330h-1zM134 332h1V333h-1zM137 328h1V329h-1zM150 345h1V347h-1zM153 334h1V335h-1zM156 338h1V344h-1zM162 332h1V334h-1zM166 339h1V344h-1zM169 338h1V339h-1zM169 341h1V342h-1zM172 341h1V343h-1zM175 340h1V341h-1zM178 320h1V322h-1zM182 322h1V323h-1zM185 306h1V309h-1zM185 319h1V322h-1zM188 299h1V301h-1zM188 309h1V310h-1zM191 301h1V302h-1zM194 284h1V285h-1zM201 285h1V286h-1zM201 292h1V299h-1zM210 274h1V275h-1zM210 279h1V280h-1zM217 250h1V252h-1zM220 256h1V257h-1zM223 264h1V270h-1zM226 267h1V271h-1zM229 274h1V278h-1zM233 275h1V276h-1zM245 265h1V266h-1zM249 268h1V269h-1zM252 266h1V267h-1zM255 264h1V265h-1zM268 267h1V271h-1zM271 263h1V265h-1zM271 267h1V271h-1zM274 267h1V268h-1zM277 264h1V265h-1zM280 261h1V263h-1zM280 267h1V271h-1zM284 262h1V263h-1zM287 258h1V260h-1zM293 262h1V264h-1zM296 258h1V262h-1zM299 259h1V260h-1zM303 258h1V259h-1zM303 261h1V262h-1zM306 256h1V257h-1zM309 257h1V259h-1zM312 256h1V260h-1zM315 256h1V260h-1zM319 269h1V271h-1zM322 264h1V265h-1zM322 269h1V271h-1zM328 262h1V264h-1zM338 258h1V262h-1zM338 267h1V268h-1zM341 261h1V262h-1zM347 267h1V268h-1zM354 256h1V258h-1zM354 260h1V268h-1zM363 263h1V264h-1zM366 261h1V263h-1zM373 264h1V265h-1zM373 271h1V278h-1zM379 258h1V261h-1zM386 254h1V256h-1zM386 258h1V259h-1zM389 259h1V271h-1zM392 251h1V258h-1zM401 250h1V251h-1zM401 253h1V255h-1zM408 244h1V247h-1zM411 239h1V245h-1zM414 236h1V245h-1zM417 250h1V251h-1zM421 246h1V251h-1zM424 250h1V251h-1zM424 259h1V261h-1zM427 259h1V260h-1zM430 258h1V260h-1zM433 257h1V258h-1zM433 260h1V261h-1zM437 261h1V264h-1zM440 259h1V264h-1zM440 266h1V270h-1zM443 266h1V268h-1zM446 275h1V278h-1zM449 265h1V272h-1zM456 260h1V261h-1zM456 265h1V266h-1zM459 265h1V266h-1zM462 258h1V261h-1zM462 263h1V264h-1zM465 260h1V261h-1zM465 267h1V268h-1zM468 261h1V263h-1zM468 267h1V271h-1zM472 263h1V265h-1zM475 259h1V261h-1zM481 263h1V264h-1zM481 272h1V275h-1zM484 268h1V270h-1zM487 273h1V278h-1zM491 268h1V271h-1zM494 270h1V272h-1zM494 274h1V276h-1zM497 268h1V269h-1zM497 273h1V281h-1zM500 268h1V269h-1zM500 271h1V275h-1zM503 267h1V269h-1zM507 272h1V278h-1zM513 282h1V289h-1zM516 278h1V281h-1zM519 279h1V281h-1zM519 286h1V291h-1zM526 291h1V292h-1zM526 296h1V300h-1zM529 275h1V284h-1zM529 296h1V300h-1zM532 283h1V284h-1zM532 287h1V300h-1zM538 291h1V292h-1zM542 295h1V296h-1zM548 280h1V281h-1zM551 285h1V293h-1zM554 287h1V289h-1zM561 281h1V284h-1zM561 287h1V288h-1zM564 291h1V296h-1zM574 286h1V292h-1zM577 285h1V286h-1zM577 293h1V294h-1zM580 289h1V294h-1zM583 291h1V292h-1zM586 286h1V291h-1zM586 294h1V296h-1zM589 285h1V286h-1zM589 291h1V293h-1zM593 285h1V286h-1zM593 290h1V296h-1zM596 292h1V293h-1zM609 274h1V283h-1zM615 300h1V302h-1zM618 295h1V296h-1zM618 300h1V301h-1zM621 291h1V296h-1zM621 298h1V307h-1zM631 285h1V288h-1zM634 288h1V295h-1zM637 288h1V289h-1zM640 287h1V289h-1zM650 278h1V279h-1zM653 290h1V293h-1zM656 278h1V285h-1zM656 290h1V293h-1zM660 287h1V288h-1zM663 283h1V285h-1zM672 273h1V275h-1zM672 278h1V280h-1zM675 272h1V274h-1zM679 270h1V271h-1zM679 274h1V278h-1zM685 236h1V237h-1zM685 254h1V255h-1zM688 233h1V237h-1zM688 240h1V245h-1zM691 235h1V239h-1zM695 228h1V229h-1zM695 240h1V245h-1zM698 223h1V224h-1zM701 218h1V222h-1zM704 221h1V222h-1zM704 224h1V226h-1zM707 222h1V224h-1zM711 223h1V224h-1zM720 233h1V234h-1zM726 223h1V225h-1zM730 218h1V221h-1zM733 210h1V218h-1zM736 219h1V221h-1zM739 168h1V171h-1zM742 182h1V186h-1zM746 162h1V163h-1zM749 150h1V152h-1zM749 164h1V165h-1zM752 142h1V146h-1zM755 141h1V142h-1zM755 148h1V152h-1zM761 146h1V147h-1zM768 100h1V102h-1zM768 127h1V129h-1zM771 92h1V102h-1zM774 122h1V123h-1zM777 104h1V109h-1zM781 115h1V117h-1zM781 121h1V139h-1zM784 114h1V117h-1zM784 129h1V134h-1zM787 107h1V109h-1zM787 129h1V130h-1zM790 104h1V109h-1zM790 114h1V115h-1zM793 117h1V126h-1zM797 119h1V120h-1zM800 108h1V113h-1zM800 119h1V121h-1zM803 110h1V112h-1zM806 111h1V113h-1zM809 114h1V116h-1zM809 121h1V123h-1zM812 119h1V121h-1zM812 126h1V132h-1zM819 113h1V114h-1zM822 133h1V137h-1zM825 133h1V135h-1zM828 117h1V121h-1zM828 129h1V132h-1zM832 124h1V126h-1zM835 115h1V116h-1zM838 112h1V117h-1zM838 121h1V122h-1zM841 119h1V121h-1zM844 125h1V130h-1zM844 133h1V135h-1zM848 133h1V134h-1zM851 125h1V128h-1zM854 126h1V128h-1zM854 137h1V144h-1zM857 125h1V128h-1zM860 114h1V116h-1zM860 128h1V129h-1zM863 107h1V111h-1zM863 116h1V118h-1zM867 114h1V115h-1zM873 117h1V119h-1zM876 112h1V113h-1zM876 116h1V119h-1zM879 108h1V111h-1zM879 116h1V117h-1zM883 111h1V112h-1zM883 119h1V121h-1zM886 119h1V121h-1zM889 114h1V120h-1zM892 109h1V112h-1zM892 115h1V116h-1zM895 111h1V112h-1zM895 115h1V120h-1zM902 112h1V113h-1zM902 116h1V117h-1zM905 114h1V116h-1zM905 120h1V123h-1zM911 117h1V118h-1zM914 110h1V113h-1zM921 121h1V124h-1zM927 122h1V126h-1zM934 136h1V138h-1zM940 122h1V125h-1zM943 115h1V125h-1zM943 129h1V133h-1zM946 128h1V129h-1zM949 133h1V134h-1zM953 125h1V127h-1zM956 130h1V132h-1zM959 123h1V125h-1zM959 128h1V129h-1zM962 130h1V131h-1zM965 126h1V127h-1zM965 130h1V132h-1zM969 113h1V117h-1zM972 113h1V116h-1zM972 119h1V121h-1zM975 108h1V112h-1zM975 120h1V121h-1zM978 113h1V124h-1zM981 89h1V96h-1zM981 108h1V110h-1zM985 82h1V94h-1zM988 87h1V92h-1zM988 95h1V98h-1zM991 84h1V86h-1zM994 75h1V86h-1zM994 90h1V92h-1zM1000 102h1V106h-1zM1010 82h1V87h-1zM1013 86h1V89h-1zM1016 86h1V88h-1zM1020 97h1V100h-1zM1029 93h1V94h-1zM1032 102h1V103h-1zM1032 106h1V109h-1zM1035 97h1V98h-1zM1035 104h1V106h-1zM1042 100h1V101h-1zM1045 94h1V96h-1zM1048 106h1V108h-1zM1051 92h1V96h-1zM1051 106h1V113h-1zM1055 99h1V101h-1zM1058 85h1V89h-1zM1061 88h1V90h-1zM1064 48h1V59h-1zM1067 57h1V59h-1zM1067 70h1V73h-1zM1071 51h1V53h-1zM1074 49h1V54h-1zM1074 59h1V69h-1zM1077 52h1V55h-1zM1080 54h1V55h-1zM1080 59h1V61h-1zM1083 41h1V44h-1zM1083 59h1V62h-1zM1090 62h1V65h-1zM1093 58h1V60h-1zM1093 62h1V64h-1zM1096 59h1V60h-1zM1096 63h1V66h-1zM1109 57h1V65h-1zM1112 54h1V56h-1zM1115 56h1V61h-1zM1115 67h1V70h-1zM1118 67h1V73h-1zM1122 58h1V60h-1zM1125 63h1V64h-1zM1131 64h1V65h-1zM1134 46h1V58h-1zM1134 60h1V61h-1zM1137 54h1V58h-1zM1137 61h1V62h-1zM1141 52h1V59h-1zM1141 67h1V69h-1zM1144 59h1V66h-1zM1147 63h1V64h-1zM1153 54h1V56h-1zM1157 54h1V59h-1zM1160 51h1V54h-1zM1160 60h1V63h-1zM1163 41h1V44h-1zM1166 30h1V37h-1zM1166 41h1V44h-1zM1169 30h1V37h-1zM1169 40h1V41h-1zM1172 31h1V37h-1zM1172 40h1V41h-1zM1179 9h1V10h-1zM1179 26h1V27h-1zM1182 5h1V10h-1zM1185 17h1V19h-1zM1188 21h1V23h-1zM1192 6h1V12h-1zM1192 15h1V17h-1z" fill="#28303c"/><path d="M-1 286h3V288h-3zM5 287h3V289h-3zM9 286h3V288h-3zM15 294h3V296h-3zM18 293h3V295h-3zM24 295h3V297h-3zM31 296h3V298h-3zM40 303h3V305h-3zM53 303h3V307h-3zM63 303h3V308h-3zM79 309h3V311h-3zM91 314h3V317h-3zM98 317h3V319h-3zM101 312h3V318h-3zM111 322h3V324h-3zM123 331h3V333h-3zM126 332h3V334h-3zM133 330h3V332h-3zM136 329h3V331h-3zM142 327h3V329h-3zM152 335h3V345h-3zM158 331h3V336h-3zM161 330h3V332h-3zM171 339h3V341h-3zM174 338h3V340h-3zM177 322h3V338h-3zM181 319h3V322h-3zM184 309h3V319h-3zM187 301h3V309h-3zM190 294h3V301h-3zM197 287h3V289h-3zM203 284h3V291h-3zM206 278h3V283h-3zM212 264h3V277h-3zM216 252h3V264h-3zM232 270h3V275h-3zM238 273h3V281h-3zM241 267h3V274h-3zM244 266h3V268h-3zM248 266h3V268h-3zM251 261h3V266h-3zM257 262h3V264h-3zM273 265h3V267h-3zM279 263h3V267h-3zM286 260h3V264h-3zM292 264h3V271h-3zM295 262h3V264h-3zM298 260h3V262h-3zM302 259h3V261h-3zM305 257h3V259h-3zM311 260h3V262h-3zM321 265h3V269h-3zM327 264h3V267h-3zM334 267h3V270h-3zM337 262h3V267h-3zM343 259h3V265h-3zM349 258h3V267h-3zM356 258h3V260h-3zM362 264h3V266h-3zM375 266h3V271h-3zM378 261h3V266h-3zM381 257h3V261h-3zM385 256h3V258h-3zM391 258h3V260h-3zM397 252h3V258h-3zM404 249h3V252h-3zM407 247h3V249h-3zM410 245h3V247h-3zM426 255h3V259h-3zM436 264h3V271h-3zM442 261h3V266h-3zM448 272h3V275h-3zM451 261h3V272h-3zM458 263h3V265h-3zM461 261h3V263h-3zM467 263h3V267h-3zM471 261h3V263h-3zM477 264h3V271h-3zM483 270h3V272h-3zM496 269h3V273h-3zM502 269h3V271h-3zM515 281h3V283h-3zM528 284h3V296h-3zM537 292h3V295h-3zM547 281h3V296h-3zM560 284h3V287h-3zM573 292h3V295h-3zM576 286h3V293h-3zM585 291h3V294h-3zM588 286h3V291h-3zM601 293h3V295h-3zM604 289h3V293h-3zM608 283h3V289h-3zM617 296h3V300h-3zM620 296h3V298h-3zM627 293h3V300h-3zM630 288h3V293h-3zM633 286h3V288h-3zM639 285h3V287h-3zM643 282h3V285h-3zM646 279h3V282h-3zM655 285h3V290h-3zM659 285h3V287h-3zM665 279h3V289h-3zM668 278h3V280h-3zM671 275h3V278h-3zM674 274h3V276h-3zM678 271h3V274h-3zM681 252h3V271h-3zM684 237h3V254h-3zM690 239h3V241h-3zM694 229h3V240h-3zM697 224h3V230h-3zM700 222h3V224h-3zM719 224h3V233h-3zM725 225h3V230h-3zM729 221h3V226h-3zM732 218h3V222h-3zM735 192h3V219h-3zM738 171h3V193h-3zM745 163h3V184h-3zM748 152h3V164h-3zM751 146h3V153h-3zM757 145h3V148h-3zM760 143h3V146h-3zM764 127h3V143h-3zM767 102h3V127h-3zM773 109h3V122h-3zM786 109h3V129h-3zM799 113h3V119h-3zM802 112h3V114h-3zM815 114h3V126h-3zM824 121h3V133h-3zM831 126h3V129h-3zM834 116h3V127h-3zM847 130h3V133h-3zM850 128h3V131h-3zM856 128h3V137h-3zM859 116h3V128h-3zM862 111h3V116h-3zM872 113h3V117h-3zM878 111h3V116h-3zM885 112h3V119h-3zM891 112h3V115h-3zM897 113h3V115h-3zM907 117h3V120h-3zM910 115h3V117h-3zM913 113h3V116h-3zM929 132h3V134h-3zM936 125h3V136h-3zM948 134h3V136h-3zM952 127h3V134h-3zM958 125h3V128h-3zM964 127h3V130h-3zM968 117h3V127h-3zM974 112h3V120h-3zM977 108h3V113h-3zM980 96h3V108h-3zM984 94h3V96h-3zM987 92h3V95h-3zM990 86h3V92h-3zM1003 92h3V100h-3zM1006 87h3V92h-3zM1012 89h3V92h-3zM1015 88h3V90h-3zM1022 95h3V98h-3zM1034 98h3V104h-3zM1041 101h3V111h-3zM1050 96h3V106h-3zM1057 89h3V96h-3zM1060 65h3V88h-3zM1063 59h3V64h-3zM1070 53h3V65h-3zM1076 55h3V59h-3zM1082 44h3V59h-3zM1092 60h3V62h-3zM1101 64h3V66h-3zM1117 62h3V67h-3zM1121 60h3V63h-3zM1146 64h3V68h-3zM1149 56h3V65h-3zM1159 54h3V60h-3zM1162 44h3V54h-3zM1165 37h3V41h-3zM1168 37h3V40h-3zM1175 26h3V39h-3zM1178 10h3V26h-3zM1187 12h3V21h-3zM1194 7h3V15h-3z" fill="#8cc474"/><path d="M2 285h3V287h-3zM12 286h3V296h-3zM21 294h3V296h-3zM28 296h3V298h-3zM34 295h3V300h-3zM37 300h3V304h-3zM44 304h3V306h-3zM47 304h3V307h-3zM50 307h3V309h-3zM56 303h3V305h-3zM60 304h3V308h-3zM66 303h3V307h-3zM69 305h3V307h-3zM72 306h3V308h-3zM75 308h3V310h-3zM82 309h3V311h-3zM85 309h3V314h-3zM88 312h3V317h-3zM95 314h3V318h-3zM104 312h3V315h-3zM107 315h3V323h-3zM114 323h3V329h-3zM117 328h3V330h-3zM120 330h3V332h-3zM130 331h3V333h-3zM139 330h3V332h-3zM146 326h3V334h-3zM149 334h3V345h-3zM155 335h3V338h-3zM165 330h3V339h-3zM168 339h3V341h-3zM193 285h3V288h-3zM200 286h3V292h-3zM209 275h3V279h-3zM219 252h3V256h-3zM222 256h3V264h-3zM225 264h3V267h-3zM228 266h3V274h-3zM235 270h3V281h-3zM254 261h3V264h-3zM260 262h3V264h-3zM263 262h3V265h-3zM267 264h3V267h-3zM270 265h3V267h-3zM276 265h3V267h-3zM283 263h3V266h-3zM289 260h3V271h-3zM308 259h3V262h-3zM314 260h3V264h-3zM318 264h3V269h-3zM324 265h3V267h-3zM330 264h3V270h-3zM340 262h3V265h-3zM346 258h3V267h-3zM353 258h3V260h-3zM359 259h3V267h-3zM365 263h3V266h-3zM369 265h3V268h-3zM372 265h3V271h-3zM388 256h3V259h-3zM394 258h3V260h-3zM400 251h3V253h-3zM413 245h3V248h-3zM416 248h3V250h-3zM420 251h3V254h-3zM423 251h3V259h-3zM429 255h3V258h-3zM432 258h3V260h-3zM439 264h3V266h-3zM445 261h3V275h-3zM455 261h3V265h-3zM464 261h3V267h-3zM474 261h3V271h-3zM480 264h3V272h-3zM486 270h3V273h-3zM490 271h3V273h-3zM493 272h3V274h-3zM499 269h3V271h-3zM506 269h3V272h-3zM509 272h3V277h-3zM512 276h3V282h-3zM518 281h3V286h-3zM522 286h3V292h-3zM525 292h3V296h-3zM531 284h3V287h-3zM534 286h3V293h-3zM541 292h3V295h-3zM544 294h3V297h-3zM550 281h3V285h-3zM553 285h3V287h-3zM557 286h3V288h-3zM563 284h3V291h-3zM566 291h3V293h-3zM569 293h3V295h-3zM579 286h3V289h-3zM582 289h3V291h-3zM592 286h3V290h-3zM595 290h3V292h-3zM598 289h3V296h-3zM611 282h3V289h-3zM614 289h3V300h-3zM623 297h3V300h-3zM636 286h3V288h-3zM649 279h3V285h-3zM652 285h3V290h-3zM662 285h3V289h-3zM687 237h3V240h-3zM703 222h3V224h-3zM706 224h3V226h-3zM710 224h3V226h-3zM713 227h3V230h-3zM716 230h3V235h-3zM722 225h3V229h-3zM741 171h3V182h-3zM754 142h3V148h-3zM770 102h3V119h-3zM776 109h3V117h-3zM780 117h3V121h-3zM783 117h3V129h-3zM789 109h3V114h-3zM792 114h3V117h-3zM796 116h3V119h-3zM805 113h3V116h-3zM808 116h3V121h-3zM811 121h3V126h-3zM818 114h3V117h-3zM821 117h3V133h-3zM827 121h3V129h-3zM837 117h3V121h-3zM840 121h3V131h-3zM843 130h3V133h-3zM853 128h3V137h-3zM866 111h3V114h-3zM869 112h3V117h-3zM875 113h3V116h-3zM882 112h3V119h-3zM888 112h3V114h-3zM894 112h3V115h-3zM901 113h3V116h-3zM904 116h3V120h-3zM917 113h3V118h-3zM920 117h3V121h-3zM923 121h3V126h-3zM926 126h3V133h-3zM933 132h3V136h-3zM939 125h3V128h-3zM942 125h3V129h-3zM945 129h3V136h-3zM955 127h3V130h-3zM961 126h3V130h-3zM971 116h3V119h-3zM993 86h3V90h-3zM996 89h3V100h-3zM999 99h3V102h-3zM1009 87h3V93h-3zM1019 89h3V97h-3zM1025 93h3V96h-3zM1028 94h3V104h-3zM1031 103h3V106h-3zM1038 98h3V109h-3zM1044 96h3V102h-3zM1047 102h3V106h-3zM1054 96h3V99h-3zM1066 59h3V70h-3zM1073 54h3V59h-3zM1079 55h3V59h-3zM1085 44h3V54h-3zM1089 54h3V62h-3zM1095 60h3V63h-3zM1098 62h3V66h-3zM1105 64h3V69h-3zM1108 47h3V57h-3zM1111 56h3V61h-3zM1114 61h3V67h-3zM1124 60h3V63h-3zM1127 60h3V63h-3zM1130 61h3V64h-3zM1133 58h3V60h-3zM1136 58h3V61h-3zM1140 59h3V67h-3zM1143 66h3V69h-3zM1152 56h3V59h-3zM1156 59h3V61h-3zM1171 37h3V40h-3zM1181 10h3V15h-3zM1184 14h3V17h-3zM1191 12h3V15h-3z" fill="#c8290c"/></g>
<!-- RSI line -->
<path d="M-1 424.95H1277" stroke="#fba173" stroke-width="1.8" stroke-dasharray="5.5 5.5" fill="none"/>
<path d="M0.0 406.3 L1.7 408.5 L3.9 412.8 L9.1 412.2 L12.6 433.9 L16.3 431.1 L19.1 431.7 L22.8 433.9 L26.1 433.9 L29.4 435.4 L32.2 434.6 L35.9 445.9 L38.7 450.2 L41.3 449.1 L44.6 449.8 L48.3 457.2 L51.1 457.2 L54.4 448.5 L57.0 449.1 L60.4 457.8 L63.5 444.8 L67.0 452.0 L69.6 452.0 L73.9 455.0 L77.2 455.9 L82.2 455.6 L85.9 461.5 L89.6 468.7 L92.4 463.3 L95.7 468.3 L98.9 467.6 L102.2 452.4 L105.4 458.9 L108.3 468.0 L111.3 465.9 L114.8 472.6 L118.5 474.1 L121.7 476.3 L124.6 476.3 L127.8 473.5 L130.4 474.1 L133.0 473.7 L136.5 467.6 L139.1 468.0 L143.0 457.2 L149.6 479.6 L152.8 460.6 L156.1 461.5 L159.8 451.3 L162.6 451.3 L165.7 461.5 L170.0 462.2 L172.0 459.6 L175.2 459.6 L178.5 437.2 L181.7 433.3 L185.7 423.7 L189.3 417.0 L193.0 411.5 L195.9 410.0 L198.0 410.6 L200.7 417.6 L204.6 412.2 L207.8 408.9 L210.4 408.9 L216.5 397.6 L219.1 404.6 L223.0 417.6 L225.9 420.9 L229.1 430.6 L232.4 427.4 L235.7 438.3 L238.7 432.8 L242.2 429.1 L245.2 428.0 L248.0 428.0 L252.4 424.1 L255.7 425.9 L260.4 425.2 L264.4 429.1 L267.6 429.6 L270.9 430.6 L274.1 429.6 L277.4 434.6 L280.6 430.2 L283.9 431.1 L286.7 427.8 L290.0 444.8 L293.0 437.2 L296.5 433.9 L300.2 431.1 L303.0 428.5 L306.1 428.9 L309.6 436.1 L312.6 434.6 L315.4 440.4 L318.3 448.0 L321.3 441.5 L324.1 442.6 L327.8 441.5 L330.0 447.0 L331.5 451.3 L334.8 445.9 L337.8 438.3 L341.1 443.3 L343.9 434.6 L347.4 447.0 L350.4 436.5 L353.7 437.6 L357.0 437.8 L360.2 447.6 L363.0 443.3 L366.3 445.9 L369.6 446.5 L372.8 453.5 L376.1 445.9 L379.1 439.8 L382.4 435.6 L385.2 435.0 L388.5 437.6 L391.7 436.7 L395.0 437.2 L398.3 428.5 L401.5 429.6 L404.8 424.8 L407.6 423.7 L410.9 421.5 L413.9 425.2 L417.2 434.6 L420.4 435.4 L423.7 449.6 L427.0 443.7 L430.2 447.6 L433.5 452.4 L436.7 456.3 L439.6 458.5 L442.8 449.8 L446.1 466.5 L449.4 462.8 L452.6 446.5 L455.9 450.2 L459.1 446.5 L462.4 445.4 L465.6 452.8 L468.9 446.5 L471.7 445.9 L475.0 456.7 L478.0 448.0 L481.3 455.2 L484.1 454.1 L487.4 455.6 L490.0 456.1 L490.9 456.3 L494.1 455.6 L497.4 450.6 L500.6 454.1 L503.5 449.8 L506.5 453.5 L509.8 458.9 L513.0 464.4 L515.9 463.9 L519.1 468.3 L522.4 473.0 L525.6 476.3 L528.9 457.4 L532.2 458.9 L535.4 465.4 L538.3 464.4 L541.5 466.1 L544.8 467.6 L548.0 447.4 L551.3 450.6 L554.6 450.9 L557.4 451.3 L560.6 449.6 L563.9 457.4 L567.0 458.5 L570.2 459.6 L573.5 458.9 L576.7 448.7 L580.0 452.0 L583.3 456.3 L586.1 454.6 L589.4 445.9 L592.6 450.6 L595.9 451.3 L598.9 459.4 L602.2 454.6 L605.4 448.0 L608.7 438.9 L611.7 449.1 L614.8 460.0 L618.0 454.6 L621.3 455.6 L624.6 458.5 L627.8 448.7 L631.1 443.7 L634.4 440.9 L637.6 440.9 L640.4 440.0 L643.5 434.6 L646.7 432.2 L650.0 441.5 L653.0 448.7 L656.3 442.0 L659.6 442.0 L662.6 446.5 L665.6 437.2 L669.4 432.8 L672.6 429.6 L675.9 428.5 L678.7 425.2 L681.7 411.1 L685.0 403.5 L688.3 405.6 L691.1 405.6 L694.4 401.3 L697.6 399.1 L700.9 398.5 L704.1 403.0 L707.4 403.5 L710.6 408.9 L713.9 416.5 L717.0 424.8 L720.0 416.1 L723.3 423.0 L726.1 423.0 L729.6 417.0 L732.8 416.1 L736.1 402.4 L739.4 395.9 L742.2 409.4 L745.4 404.1 L748.7 400.6 L752.0 399.1 L755.2 399.8 L758.5 399.1 L761.1 398.5 L764.4 394.8 L767.8 390.4 L770.9 407.8 L774.1 406.3 L777.0 412.2 L780.2 416.1 L783.5 422.4 L786.7 415.4 L790.0 419.1 L792.8 420.2 L796.5 425.2 L799.8 421.5 L802.6 422.0 L806.3 425.2 L810.0 430.6 L812.4 433.9 L815.2 426.3 L818.9 431.7 L821.7 442.6 L825.0 436.1 L828.3 440.9 L831.5 439.4 L834.8 433.5 L838.0 437.2 L841.3 444.1 L844.6 444.4 L847.8 443.7 L851.1 442.2 L853.9 449.6 L857.0 442.6 L860.2 435.0 L863.5 431.1 L866.3 432.4 L869.6 436.5 L872.8 433.3 L876.1 435.4 L879.4 433.3 L882.6 441.1 L885.9 435.6 L889.1 435.6 L892.4 435.6 L895.6 438.3 L898.9 436.7 L901.7 439.4 L905.0 445.2 L908.0 442.6 L911.3 439.4 L914.6 437.8 L917.8 443.0 L921.1 448.0 L923.9 454.1 L927.2 460.4 L930.0 460.0 L933.3 463.3 L936.5 448.7 L939.8 449.1 L942.8 452.4 L946.1 459.6 L948.9 457.2 L952.2 448.0 L955.4 448.5 L958.7 445.9 L962.0 451.3 L965.2 448.0 L968.5 433.9 L970.0 435.4 L971.3 438.3 L974.8 431.7 L978.5 427.0 L981.3 419.8 L984.4 417.6 L987.6 416.1 L990.9 412.2 L993.7 422.0 L997.0 431.7 L1000.2 433.3 L1003.5 427.0 L1006.3 422.6 L1009.6 430.2 L1012.8 428.0 L1016.1 428.5 L1019.8 437.6 L1022.6 436.7 L1025.7 435.4 L1028.9 446.3 L1032.2 447.4 L1035.4 441.1 L1038.7 451.3 L1042.0 444.8 L1044.8 445.4 L1048.0 448.0 L1051.3 438.3 L1054.1 437.6 L1057.2 431.3 L1060.4 414.4 L1063.9 411.5 L1067.0 424.8 L1070.2 416.1 L1073.5 420.9 L1076.7 420.2 L1079.6 423.7 L1083.3 417.0 L1086.5 427.4 L1089.8 434.4 L1093.0 433.3 L1095.9 433.9 L1099.6 437.8 L1102.8 436.5 L1105.7 440.9 L1108.9 432.4 L1112.2 436.7 L1115.2 441.5 L1118.3 438.7 L1121.5 436.5 L1124.6 436.5 L1127.8 437.8 L1130.0 438.3 L1133.5 435.4 L1136.7 436.1 L1140.0 445.4 L1143.3 447.0 L1146.5 443.3 L1149.8 434.6 L1153.0 436.5 L1156.3 438.7 L1159.6 432.8 L1162.8 424.1 L1166.1 418.7 L1169.3 418.7 L1172.6 423.0 L1175.4 413.9 L1178.7 405.2 L1182.0 411.1 L1185.2 416.1 L1188.0 413.3 L1191.3 417.0 L1194.6 412.6" fill="none" stroke="#1a1a1a" stroke-width="1.3" stroke-linejoin="round"/>
<!-- highlight rects -->
<g fill="#5b86ea" fill-opacity="0.16" stroke="#a8c4f8" stroke-width="1.8">
<rect x="175" y="251.5" width="54" height="87.3" rx="1.3"/>
<rect x="678" y="103" width="118" height="174" rx="1.3"/>
<rect x="978" y="83.7" width="16.5" height="32.2" rx="1.3"/>
<rect x="1059.6" y="46.4" width="27" height="42" rx="1.3"/>
<rect x="1162" y="2" width="61.5" height="53" rx="1.3"/>
<rect x="181" y="398" width="48" height="26.5" rx="1.3"/>
<rect x="675" y="390" width="118.5" height="33" rx="1.3"/>
<rect x="978" y="408.6" width="16.3" height="14.6" rx="1.3"/>
<rect x="1059.6" y="409.6" width="26.5" height="14.5" rx="1.3"/>
<rect x="1161.8" y="404" width="42.5" height="20" rx="1.3"/>
</g>
<!-- RSI zona text -->
<text transform="translate(462.4 412.8) scale(0.84 1)" font-size="14" letter-spacing="1.08" fill="#8cbf74" stroke="#8cbf74" stroke-width="0.6">RSI ZONA ALCISTA</text>
<!-- icons -->
<g stroke="#555" fill="none">
<path d="M98.4 404V392.2M93 397.7L98.4 392.2L103.8 397.7" stroke-width="1.1"/>
<path d="M151.8 392.8L160.9 401.9M160.9 392.8L151.8 401.9" stroke-width="1.9"/>
</g>
<g transform="translate(128 398)" fill="#5a5a5a">
<path fill-rule="evenodd" d="M0 -5.4A5.4 5.4 0 1 0 0 5.4A5.4 5.4 0 1 0 0 -5.4ZM0 -2.65A2.65 2.65 0 1 1 0 2.65A2.65 2.65 0 1 1 0 -2.65Z"/>
<path d="M-1.8 -4.6L-1.25 -7.1H1.25L1.8 -4.6Z"/>
<path d="M-1.8 -4.6L-1.25 -7.1H1.25L1.8 -4.6Z" transform="rotate(45)"/>
<path d="M-1.8 -4.6L-1.25 -7.1H1.25L1.8 -4.6Z" transform="rotate(90)"/>
<path d="M-1.8 -4.6L-1.25 -7.1H1.25L1.8 -4.6Z" transform="rotate(135)"/>
<path d="M-1.8 -4.6L-1.25 -7.1H1.25L1.8 -4.6Z" transform="rotate(180)"/>
<path d="M-1.8 -4.6L-1.25 -7.1H1.25L1.8 -4.6Z" transform="rotate(225)"/>
<path d="M-1.8 -4.6L-1.25 -7.1H1.25L1.8 -4.6Z" transform="rotate(270)"/>
<path d="M-1.8 -4.6L-1.25 -7.1H1.25L1.8 -4.6Z" transform="rotate(315)"/>
</g>
<!-- tags -->
<path d="M1276 7.5L1284 -0.5H1332V15.4H1284Z" fill="#8cbf74"/>
<text x="1291" y="11.2" font-size="10.35" fill="#fff">1.092,10</text>
<path d="M1276.2 412.6L1281.6 406.4Q1283.2 404.9 1285.5 404.9H1317.5a2.5 2.5 0 0 1 2.5 2.5V417.8a2.5 2.5 0 0 1 -2.5 2.5H1285.5Q1283.2 420.3 1281.6 418.8Z" fill="#000"/>
<text x="1290.5" y="416.3" font-size="10.35" fill="#fff">73,70</text>
<path d="M1275.8 425L1281.4 419.2Q1283 417.6 1285.3 417.6H1302.5a2.5 2.5 0 0 1 2.5 2.5V430.3a2.5 2.5 0 0 1 -2.5 2.5H1285.3Q1283 432.8 1281.4 431.2Z" fill="#fb6a1f"/>
<text x="1290" y="428.9" font-size="10.35" fill="#000">65</text>
</svg>
<div class="lbl" style="left:9px;top:14px;width:90px;letter-spacing:-0.25px;">SALFACORP</div>
<div class="lbl" style="left:9px;top:387px;width:65px;">RSI (14)</div>
</body></html>
